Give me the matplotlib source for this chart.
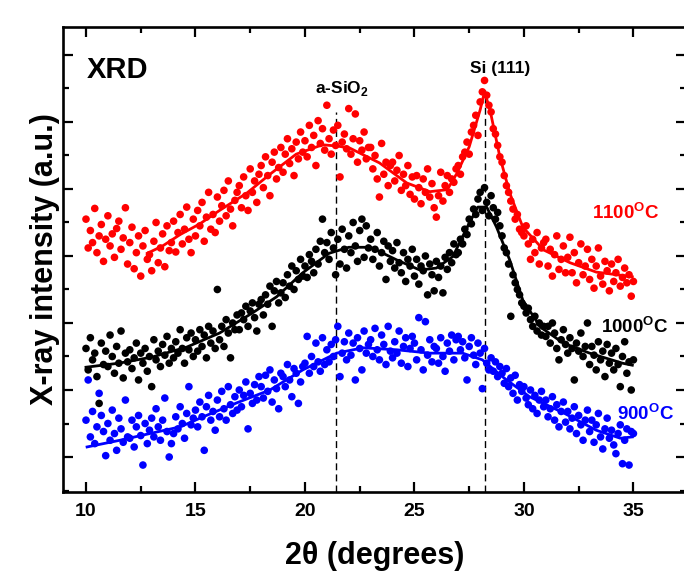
#!/usr/bin/env python3

# XRD patterns of the annealed films (900, 1000, 1100 C) with smooth fits.

import numpy as np
import matplotlib
matplotlib.use('Agg')
import matplotlib.pyplot as plt
from matplotlib.ticker import MultipleLocator

plt.rcParams['font.family'] = ['Liberation Sans', 'DejaVu Sans']
plt.rcParams['font.weight'] = 'bold'
plt.rcParams['mathtext.fontset'] = 'custom'
plt.rcParams['mathtext.rm'] = 'Liberation Sans:bold'
plt.rcParams['mathtext.bf'] = 'Liberation Sans:bold'

# measured points, 2theta = 10.0 ... 35.0 in 0.1 steps (one row per degree)
two_theta = np.linspace(10, 35, 251)

i_1100 = [
    4.55, 4.12, 4.38, 4.20, 4.71, 4.05, 4.30, 4.47, 3.92, 4.25,
    4.60, 4.15, 4.33, 3.98, 4.41, 4.52, 4.10, 4.27, 4.72, 3.88,
    4.20, 4.43, 3.81, 4.05, 4.30, 3.70, 4.15, 4.38, 3.95, 4.02,
    3.78, 4.22, 4.50, 3.90, 4.12, 4.33, 3.84, 4.45, 4.08, 4.20,
    4.52, 4.06, 4.35, 4.62, 4.18, 4.40, 4.73, 4.25, 4.05, 4.55,
    4.30, 4.68, 4.45, 4.80, 4.22, 4.58, 4.95, 4.40, 4.62, 4.35,
    4.88, 4.52, 4.75, 4.98, 4.60, 5.12, 4.70, 4.45, 4.83, 4.95,
    5.05, 4.72, 5.18, 4.90, 4.68, 5.30, 4.95, 5.12, 4.80, 5.22,
    5.35, 5.02, 5.48, 5.20, 4.90, 5.40, 5.55, 5.15, 5.32, 5.62,
    5.25, 5.52, 5.75, 5.38, 5.60, 5.20, 5.70, 5.45, 5.85, 5.55,
    5.72, 5.48, 5.95, 5.62, 5.80, 5.35, 6.02, 5.68, 5.90, 5.58,
    6.25, 5.75, 5.52, 5.88, 5.65, 5.95, 5.18, 5.70, 5.82, 5.60,
    6.20, 5.52, 5.75, 6.12, 5.40, 5.72, 5.58, 5.85, 5.45, 5.62,
    5.62, 5.30, 5.50, 5.15, 4.88, 5.68, 5.22, 5.40, 5.05, 5.35,
    5.40, 5.12, 5.28, 5.50, 4.98, 5.22, 5.05, 5.35, 4.92, 5.18,
    4.85, 5.20, 5.02, 4.78, 5.15, 4.95, 5.30, 4.88, 5.08, 4.72,
    4.58, 4.90, 5.25, 4.82, 5.05, 5.20, 4.95, 5.15, 5.10, 5.30,
    5.35, 5.22, 5.48, 5.55, 5.70, 5.52, 5.85, 5.95, 6.10, 5.80,
    6.30, 6.45, 6.62, 6.40, 6.25, 6.15, 5.90, 5.82, 5.65, 5.48,
    5.40, 5.20, 5.05, 4.95, 4.82, 4.70, 4.55, 4.62, 4.40, 4.35,
    4.30, 4.45, 4.18, 3.95, 4.25, 4.05, 4.35, 3.88, 4.12, 4.20,
    4.25, 3.85, 4.10, 3.70, 4.02, 4.30, 3.80, 3.95, 4.15, 3.75,
    3.98, 4.28, 3.75, 4.05, 3.60, 3.90, 4.18, 3.72, 3.85, 4.10,
    3.65, 3.95, 3.52, 3.85, 4.12, 3.70, 3.58, 3.92, 3.78, 3.48,
    3.88, 3.62, 3.75, 3.95, 3.55, 3.68, 3.82, 3.60, 3.72, 3.40,
    3.62,
]

i_1000 = [
    2.62, 2.30, 2.78, 2.45, 2.55, 2.20, 1.80, 2.70, 2.38, 2.58,
    2.35, 2.82, 2.50, 2.25, 2.65, 2.40, 2.88, 2.18, 2.55, 2.42,
    2.60, 2.32, 2.48, 2.70, 2.15, 2.55, 2.40, 2.62, 2.28, 2.50,
    2.05, 2.75, 2.45, 2.58, 2.35, 2.68, 2.52, 2.80, 2.40, 2.62,
    2.48, 2.72, 2.55, 2.90, 2.62, 2.40, 2.78, 2.60, 2.85, 2.50,
    2.75, 2.58, 2.90, 2.65, 2.82, 2.48, 2.95, 2.70, 2.88, 2.62,
    3.50, 2.75, 2.95, 2.65, 3.05, 2.85, 2.48, 3.00, 2.90, 3.12,
    2.90, 3.15, 3.05, 3.25, 2.95, 3.18, 3.30, 3.08, 2.88, 3.28,
    3.35, 3.12, 3.42, 3.28, 3.55, 2.95, 3.48, 3.62, 3.30, 3.45,
    3.60, 3.38, 3.72, 3.55, 3.85, 3.50, 3.78, 3.65, 3.95, 3.70,
    3.85, 3.68, 4.02, 3.92, 3.75, 4.10, 3.88, 4.22, 4.55, 4.05,
    4.20, 3.95, 4.35, 4.12, 3.72, 4.25, 3.88, 4.40, 4.10, 3.82,
    4.30, 4.05, 4.50, 4.15, 3.92, 4.38, 4.55, 3.98, 4.45, 4.12,
    4.25, 3.95, 4.10, 4.35, 3.85, 4.05, 4.22, 3.65, 4.15, 3.92,
    4.08, 3.82, 4.20, 3.90, 3.75, 4.05, 3.62, 3.95, 3.85, 4.10,
    3.70, 3.95, 3.58, 3.85, 3.78, 4.00, 3.42, 3.88, 3.72, 3.48,
    3.92, 3.68, 3.85, 3.45, 3.98, 3.80, 4.05, 3.90, 4.18, 4.02,
    4.05, 4.25, 4.18, 4.40, 4.32, 4.55, 4.48, 4.70, 4.62, 4.85,
    4.95, 4.68, 5.02, 4.80, 4.60, 4.90, 4.72, 4.55, 4.65, 4.45,
    4.30, 4.12, 4.05, 3.88, 3.10, 3.72, 3.60, 3.50, 3.42, 3.30,
    3.25, 3.15, 3.22, 3.05, 2.95, 3.10, 2.88, 3.00, 2.82, 2.95,
    2.80, 2.95, 2.70, 3.00, 2.85, 2.62, 2.45, 2.75, 2.90, 2.68,
    2.55, 2.78, 2.62, 2.15, 2.70, 2.58, 2.85, 2.50, 2.65, 3.00,
    2.38, 2.65, 2.52, 2.30, 2.72, 2.45, 2.58, 2.20, 2.68, 2.40,
    2.55, 2.30, 2.62, 2.38, 2.05, 2.50, 2.72, 2.25, 2.42, 2.00,
    2.45,
]

i_900 = [
    1.55, 2.15, 1.30, 1.68, 1.20, 1.45, 1.95, 1.62, 1.38, 1.02,
    1.50, 1.25, 1.70, 1.35, 1.10, 1.58, 1.42, 1.22, 1.85, 1.30,
    1.28, 1.55, 1.15, 1.45, 1.62, 1.32, 0.88, 1.50, 1.20, 1.40,
    1.58, 1.30, 1.72, 1.45, 1.25, 1.55, 1.88, 1.38, 1.00, 1.20,
    1.35, 1.60, 1.42, 1.75, 1.50, 1.28, 1.65, 2.05, 1.48, 1.58,
    1.70, 1.45, 1.82, 1.60, 1.10, 1.75, 1.92, 1.55, 1.68, 1.40,
    1.85, 1.60, 1.98, 1.72, 1.55, 2.05, 1.78, 1.65, 1.90, 1.70,
    2.00, 1.75, 1.92, 2.12, 1.42, 1.95, 1.80, 2.08, 1.85, 2.20,
    2.05, 1.88, 2.22, 1.98, 2.30, 1.82, 2.15, 2.02, 1.72, 2.25,
    2.20, 2.05, 2.38, 2.15, 1.90, 2.32, 2.25, 1.80, 2.12, 2.35,
    2.40, 2.80, 2.25, 2.50, 2.35, 2.70, 2.42, 2.28, 2.78, 2.38,
    2.60, 2.42, 2.68, 2.50, 2.75, 2.95, 2.20, 2.55, 2.72, 2.45,
    2.85, 2.52, 2.70, 2.15, 2.78, 2.62, 2.30, 2.88, 2.55, 2.68,
    2.75, 2.50, 2.92, 2.60, 2.45, 2.82, 2.68, 2.38, 2.95, 2.58,
    2.48, 2.72, 2.55, 2.88, 2.40, 2.65, 2.78, 2.35, 2.62, 2.80,
    2.70, 2.45, 3.08, 2.60, 2.30, 3.02, 2.52, 2.75, 2.42, 2.65,
    2.62, 2.40, 2.78, 2.50, 2.28, 2.70, 2.58, 2.82, 2.45, 2.75,
    2.80, 2.60, 2.72, 2.48, 2.15, 2.65, 2.78, 2.52, 2.38, 2.70,
    2.55, 2.02, 2.62, 2.40, 2.30, 2.48, 2.28, 2.42, 2.20, 2.35,
    2.25, 2.10, 2.32, 2.05, 2.18, 1.95, 2.22, 1.85, 2.08, 1.98,
    2.05, 1.88, 1.78, 2.00, 1.72, 1.92, 1.65, 1.85, 1.98, 1.75,
    1.85, 1.60, 1.72, 1.90, 1.55, 1.78, 1.45, 1.68, 1.82, 1.52,
    1.68, 1.42, 1.58, 1.75, 1.35, 1.62, 1.48, 1.25, 1.55, 1.70,
    1.38, 1.55, 1.22, 1.48, 1.65, 1.30, 1.12, 1.42, 1.58, 1.28,
    1.40, 1.18, 1.05, 1.35, 1.48, 0.90, 1.25, 1.42, 0.88, 1.38,
    1.35,
]

# fitted curves
fit_1100_x = [12.8, 13.5, 14.3, 15.2, 16.1, 17.35, 18.4, 19.6, 20.8, 21.5, 22.05,
              23.4, 24.65, 25.7, 26.5, 26.95, 27.5, 28.0, 28.2, 28.45, 28.9,
              29.35, 29.95, 30.9, 32.1, 33.3, 34.95]
fit_1100_y = [4.04, 4.15, 4.32, 4.48, 4.68, 4.94, 5.22, 5.52, 5.66, 5.64, 5.61,
              5.39, 5.09, 4.96, 4.99, 5.24, 5.63, 6.18, 6.45, 6.18, 5.48,
              4.94, 4.43, 4.09, 3.90, 3.76, 3.69]

fit_1000_x = [10.0, 11.5, 13.0, 14.6, 16.1, 17.6, 18.7, 19.9, 21.1, 22.0, 23.0,
              24.2, 25.25, 26.0, 26.75, 27.5, 27.9, 28.3, 28.75, 29.35, 29.95,
              30.75, 31.8, 33.0, 34.5, 34.95]
fit_1000_y = [2.34, 2.40, 2.49, 2.64, 2.85, 3.15, 3.39, 3.75, 4.04, 4.13, 4.13,
              3.94, 3.79, 3.82, 3.99, 4.49, 4.73, 4.73, 4.43, 3.94, 3.34,
              2.94, 2.70, 2.55, 2.40, 2.37]

fit_900_x = [10.05, 11.55, 13.05, 14.3, 15.35, 16.9, 18.4, 19.9, 21.45, 22.65,
             24.2, 25.7, 27.2, 28.1, 29.05, 30.25, 31.8, 33.3, 34.4, 34.95]
fit_900_y = [1.15, 1.25, 1.36, 1.45, 1.60, 1.81, 2.00, 2.30, 2.55, 2.63,
             2.60, 2.55, 2.55, 2.45, 2.19, 1.90, 1.66, 1.40, 1.28, 1.30]

peak_sio2 = 21.4
peak_si111 = 28.2

fig = plt.figure(figsize=(6.84, 5.79), dpi=100)
ax = fig.add_axes([0.0921, 0.1503, 0.9108, 0.8031])

ax.axvline(peak_sio2, ymax=(6.15 - 0.478) / (7.418 - 0.478), color='black',
           lw=1.0, ls=(0, (5, 3)), zorder=1)
ax.axvline(peak_si111, ymax=(6.48 - 0.478) / (7.418 - 0.478), color='black',
           lw=1.0, ls=(0, (5, 3)), zorder=1)

for y, c in [(i_1100, 'red'), (i_1000, 'black'), (i_900, 'blue')]:
    ax.scatter(two_theta, y, s=30, color=c, edgecolors='none', zorder=2)

ax.plot(fit_1100_x, fit_1100_y, color='red', lw=2.0, zorder=3)
ax.plot(fit_1000_x, fit_1000_y, color='black', lw=2.0, zorder=3)
ax.plot(fit_900_x, fit_900_y, color='blue', lw=2.0, zorder=3)

ax.set_xlim(8.95, 37.4)
ax.set_ylim(0.478, 7.418)
ax.xaxis.set_major_locator(MultipleLocator(5))
ax.xaxis.set_minor_locator(MultipleLocator(2.5))
ax.yaxis.set_major_locator(MultipleLocator(1))
ax.yaxis.set_minor_locator(MultipleLocator(0.5))
ax.tick_params(which='both', direction='in', top=True, right=True, width=1.6,
               labelleft=False, labelsize=14, pad=8)
ax.tick_params(which='major', length=7)
ax.tick_params(which='minor', length=4)
for s in ax.spines.values():
    s.set_linewidth(1.9)

ax.set_xlabel('2θ (degrees)', fontsize=22, fontweight='bold', labelpad=15)
ax.set_ylabel('X-ray intensity (a.u.)', fontsize=22, fontweight='bold', labelpad=2)

ax.text(10.05, 6.66, 'XRD', fontsize=21, fontweight='bold')
ax.text(21.7, 6.43, r'a-SiO$_\mathbf{2}$', fontsize=12.5, ha='center')
ax.text(28.9, 6.73, 'Si (111)', fontsize=12.5, ha='center')
ax.text(33.1, 4.55, r'1100$^\mathbf{O}$C', fontsize=13.5, color='red')
ax.text(33.5, 2.85, r'1000$^\mathbf{O}$C', fontsize=13.5, color='black')
ax.text(34.25, 1.55, r'900$^\mathbf{O}$C', fontsize=13.5, color='blue')

fig.savefig('out.png', dpi=100)
